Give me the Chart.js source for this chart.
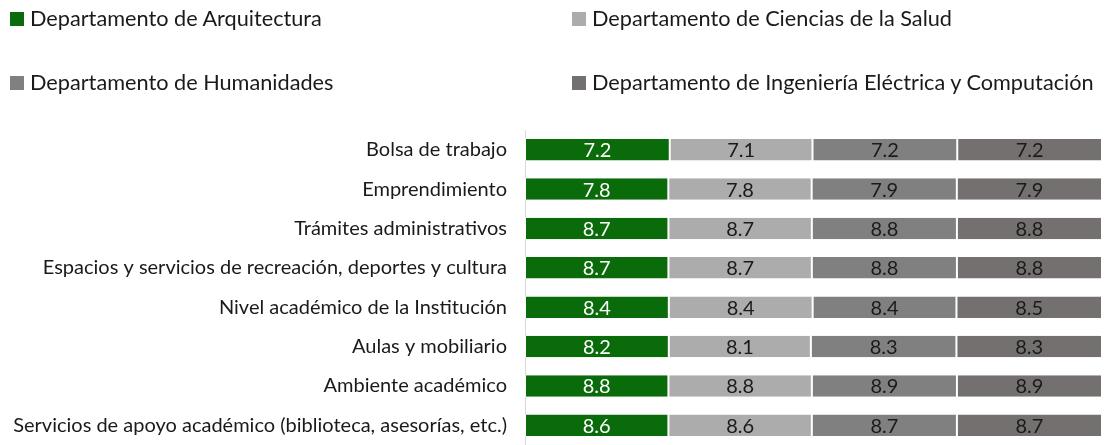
<!DOCTYPE html>
<html>
<head>
<meta charset="utf-8">
<script src="https://cdn.jsdelivr.net/npm/chart.js@4/dist/chart.umd.min.js"></script>
<style>
  html,body{margin:0;padding:0;background:#fff;}
  #wrap{position:relative;width:1107px;height:445px;overflow:hidden;font-family:Lato,"Noto Sans",sans-serif;}
  #chart{display:block;}
  #legend{position:absolute;left:0;top:0;width:1107px;height:110px;}
  .item{position:absolute;display:flex;align-items:center;color:#1a1a1a;white-space:nowrap;line-height:1;}
  .box{width:14px;height:14px;margin-right:6px;flex:none;}
</style>
</head>
<body>
<div id="wrap">
  <canvas id="chart" width="1107" height="445"></canvas>
  <div id="legend"></div>
</div>
<script>
// data
const categories = [
  "Bolsa de trabajo",
  "Emprendimiento",
  "Trámites administrativos",
  "Espacios y servicios de recreación, deportes y cultura",
  "Nivel académico de la Institución",
  "Aulas y mobiliario",
  "Ambiente académico",
  "Servicios de apoyo académico (biblioteca, asesorías, etc.)"
];
const seriesNames = [
  "Departamento de Arquitectura",
  "Departamento de Ciencias de la Salud",
  "Departamento de Humanidades",
  "Departamento de Ingeniería Eléctrica y Computación"
];
const arquitectura = [7.2, 7.8, 8.7, 8.7, 8.4, 8.2, 8.8, 8.6];
const salud        = [7.1, 7.8, 8.7, 8.7, 8.4, 8.1, 8.8, 8.6];
const humanidades  = [7.2, 7.9, 8.8, 8.8, 8.4, 8.3, 8.9, 8.7];
const ingenieria   = [7.2, 7.9, 8.8, 8.8, 8.5, 8.3, 8.9, 8.7];
const colors = ["#0a6b0a", "#acacac", "#808080", "#747070"];
const labelColors = ["#ffffff", "#1a1a1a", "#1a1a1a", "#1a1a1a"];

const FAMILY = "Lato, 'Noto Sans', sans-serif";

// pick font sizes so text widths match the original (Calibri-like) layout
const mctx = document.createElement("canvas").getContext("2d");
function fitSize(text, target){
  mctx.font = `100px ${FAMILY}`;
  return Math.floor(target / mctx.measureText(text).width * 1000) / 10;
}
const tickSize = fitSize(categories[7], 494);
const legendSize = Math.min(fitSize(seriesNames[0], 302), fitSize(seriesNames[3], 504));

const raw = [arquitectura, salud, humanidades, ingenieria];
const totals = categories.map((_, i) => raw.reduce((s, arr) => s + arr[i], 0));

// 100% stacked: each segment as share of row total
const datasets = raw.map((arr, k) => ({
  label: seriesNames[k],
  data: arr.map((v, i) => v / totals[i] * 100),
  raw: arr,
  backgroundColor: colors[k],
  borderColor: "#ffffff",
  borderWidth: {top:0,bottom:0,left:1,right:1},
  borderSkipped: false,
  barPercentage: 0.545,
  categoryPercentage: 1
}));

// legend (html)
const legendPos = [[10, 19], [572, 19], [10, 83], [572, 83]];
const legendEl = document.getElementById("legend");
seriesNames.forEach((n, k) => {
  const d = document.createElement("div");
  d.className = "item";
  d.style.fontSize = legendSize + "px";
  d.style.left = legendPos[k][0] + "px";
  d.style.top = (legendPos[k][1] - 10) + "px";
  d.style.height = "20px";
  d.innerHTML = `<span class="box" style="background:${colors[k]}"></span><span>${n}</span>`;
  legendEl.appendChild(d);
});

const valueLabels = {
  id: "valueLabels",
  afterDatasetsDraw(chart){
    const ctx = chart.ctx;
    ctx.save();
    ctx.font = `${tickSize}px ${FAMILY}`;
    ctx.textAlign = "center";
    ctx.textBaseline = "middle";
    chart.data.datasets.forEach((ds, k) => {
      chart.getDatasetMeta(k).data.forEach((bar, i) => {
        const p = bar.getProps(["x", "base", "y"], true);
        ctx.fillStyle = labelColors[k];
        ctx.fillText(ds.raw[i].toFixed(1), (p.x + p.base) / 2, p.y + 1);
      });
    });
    ctx.restore();
  }
};

new Chart(document.getElementById("chart").getContext("2d"), {
  type: "bar",
  data: { labels: categories, datasets },
  options: {
    indexAxis: "y",
    responsive: false,
    animation: false,
    layout: { padding: { top: 130, right: 5, bottom: -9, left: 0 } },
    plugins: { legend: { display: false }, tooltip: { enabled: false } },
    scales: {
      x: { stacked: true, min: 0, max: 100, display: false },
      y: {
        stacked: true,
        afterFit(scale){
          scale.width = 525;
          scale.paddingTop = 0;
          scale.paddingBottom = 0;
        },
        grid: { display: false, drawTicks: false },
        border: { display: true, color: "#d9d9d9", width: 1 },
        ticks: {
          color: "#1a1a1a",
          padding: 18,
          font: { family: FAMILY, size: tickSize }
        }
      }
    }
  },
  plugins: [valueLabels]
});
</script>
</body>
</html>
